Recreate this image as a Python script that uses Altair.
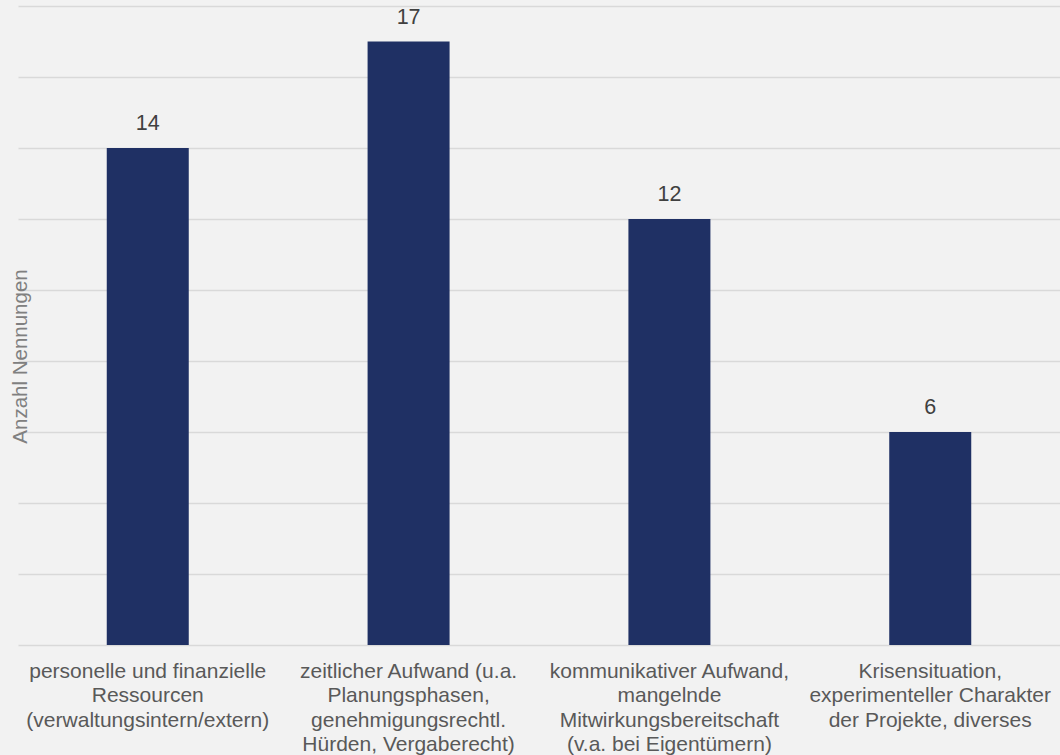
import altair as alt
import pandas as pd

categories = [
    "personelle und finanzielle|Ressourcen|(verwaltungsintern/extern)",
    "zeitlicher Aufwand (u.a.|Planungsphasen,|genehmigungsrechtl.|Hürden, Vergaberecht)",
    "kommunikativer Aufwand,|mangelnde|Mitwirkungsbereitschaft|(v.a. bei Eigentümern)",
    "Krisensituation,|experimenteller Charakter|der Projekte, diverses",
]
values = [14, 17, 12, 6]
y_ticks = [0, 2, 4, 6, 8, 10, 12, 14, 16, 18]

df = pd.DataFrame({"cat": categories, "val": values})

FONT = "Liberation Sans"

x = alt.X(
    "cat:N",
    sort=categories,
    scale=alt.Scale(paddingInner=0.685, paddingOuter=0.34),
    axis=alt.Axis(
        title=None,
        labelAngle=0,
        labelExpr="split(datum.label, '|')",
        labelFont=FONT,
        labelFontSize=21,
        labelColor="#595959",
        labelLineHeight=24.5,
        labelPadding=15,
        labelLimit=300,
        ticks=False,
        domain=False,
        labelBaseline="top",
    ),
)
y = alt.Y(
    "val:Q",
    scale=alt.Scale(domain=[0, 18], nice=False),
    axis=alt.Axis(
        values=y_ticks,
        labels=False,
        ticks=False,
        domain=False,
        grid=True,
        gridColor="#d9d9d9",
        gridWidth=1.5,
        title="Anzahl Nennungen",
        titleFont=FONT,
        titleFontSize=20.5,
        titleFontWeight="normal",
        titleColor="#808080",
        titleX=2.5,
        titleY=350,
        titleAngle=270,
        titleBaseline="middle",
        titleAlign="center",
    ),
)

bars = alt.Chart(df).mark_bar(color="#1f3064", size=82).encode(x=x, y=y)
text = alt.Chart(df).mark_text(
    dy=-24, font=FONT, fontSize=21.5, color="#404040", baseline="middle"
).encode(x=alt.X("cat:N", sort=categories), y="val:Q", text="val:Q")

chart = (
    (bars + text)
    .properties(
        width=1042,
        height=639,
        background="#f2f2f2",
        padding={"left": 18, "top": 6, "right": 0, "bottom": 110},
        autosize=alt.AutoSizeParams(type="none"),
    )
    .configure_view(stroke=None)
)

chart.save("out.html", embed_options={"renderer": "svg", "actions": False})
